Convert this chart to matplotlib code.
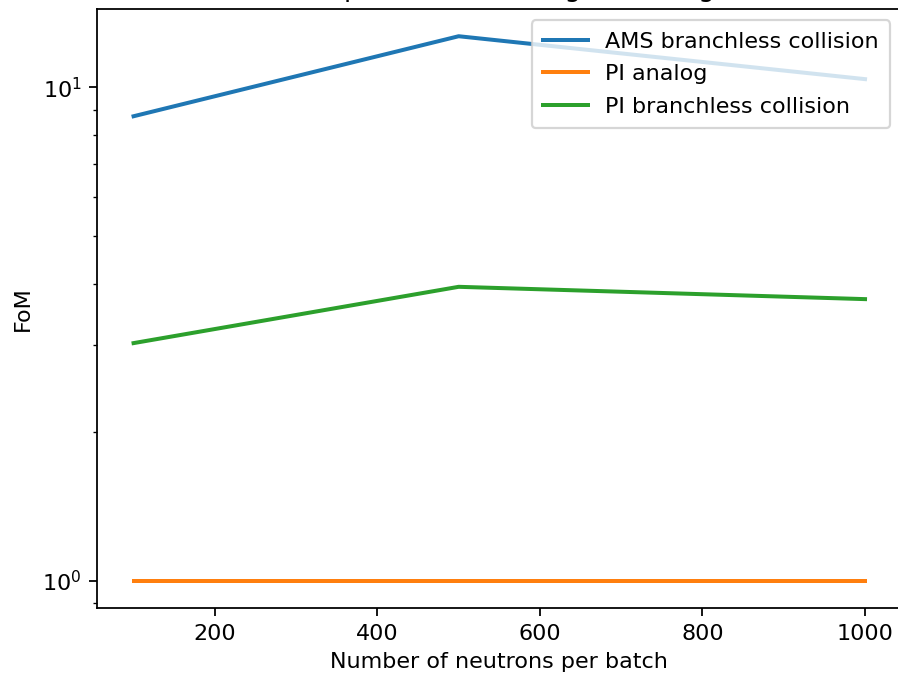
import matplotlib
matplotlib.use("Agg")
import matplotlib.pyplot as plt

# Batch sizes and figure of merit for each strategy
batch_sizes = [100, 500, 1000]
ams_branchless = [8.73, 12.68, 10.38]
pi_analog = [1.0, 1.0, 1.0]
pi_branchless = [3.03, 3.94, 3.72]

labels = ["AMS branchless collision", "PI analog", "PI branchless collision"]

W, H, DPI = 898, 677, 160
fig = plt.figure(figsize=(W / DPI, H / DPI), dpi=DPI)
left, right, bottom, top = 97, 901.6, 608, 9
ax = fig.add_axes([left / W, (H - bottom) / H, (right - left) / W, (bottom - top) / H])

lw = 1.8
ax.plot(batch_sizes, ams_branchless, label=labels[0], lw=lw)
ax.plot(batch_sizes, pi_analog, label=labels[1], lw=lw)
ax.plot(batch_sizes, pi_branchless, label=labels[2], lw=lw)
ax.set_yscale("log")

ax.set_title("Comparison according to analog")
ax.set_xlabel("Number of neutrons per batch")
ax.set_ylabel("FoM")
ax.legend(loc="upper right", labelspacing=0.56, borderpad=0.52)

fig.savefig("out.png", dpi=DPI)
